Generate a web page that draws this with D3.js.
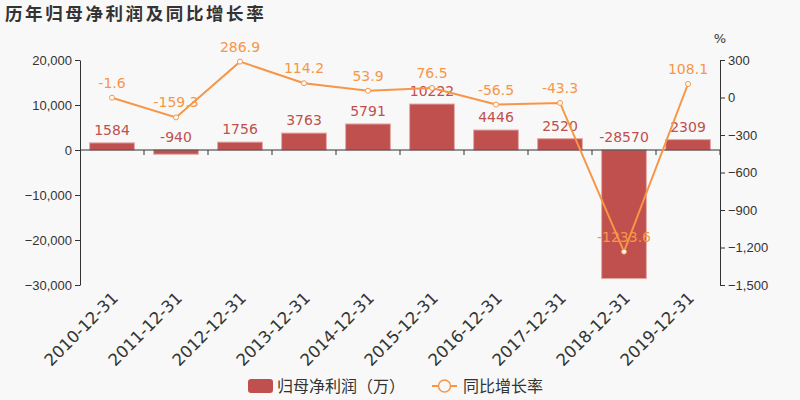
<!DOCTYPE html>
<html><head><meta charset="utf-8">
<script src="https://cdn.jsdelivr.net/npm/d3@7"></script>
<style>
body{margin:0;background:#f8f8f8;}
svg{display:block;font-family:"DejaVu Sans",sans-serif;}
</style></head><body>
<svg id="c" width="800" height="400"></svg>
<script>
const categories = ["2010-12-31","2011-12-31","2012-12-31","2013-12-31","2014-12-31","2015-12-31","2016-12-31","2017-12-31","2018-12-31","2019-12-31"];
const profit = [1584,-940,1756,3763,5791,10222,4446,2520,-28570,2309];
const growth = [-1.6,-159.3,286.9,114.2,53.9,76.5,-56.5,-43.3,-1233.6,108.1];
const leftTicks = [20000,10000,0,-10000,-20000,-30000];
const rightTicks = [300,0,-300,-600,-900,-1200,-1500];

const svg = d3.select("#c");
const W=800,H=400, L=80, R=720, T=60, B=285;
const barColor="#c0504d", lineColor="#f79646", textColor="#333";
svg.append("rect").attr("width",W).attr("height",H).attr("fill","#f8f8f8");

svg.append("text").attr("x",5).attr("y",20).attr("font-size",17.5).attr("font-weight","bold")
  .attr("fill","#333").attr("letter-spacing","2.6px").attr("font-family","'Noto Sans CJK SC',sans-serif")
  .text("历年归母净利润及同比增长率");

const x = d3.scaleBand().domain(categories).range([L,R]).paddingInner(0.3).paddingOuter(0.15);
const xb = d3.scaleBand().domain(categories).range([L,R]);
const y = d3.scaleLinear().domain([-30000,20000]).range([B,T]);
const y2 = d3.scaleLinear().domain([-1500,300]).range([B,T]);

const fmt = d3.format(",");
const gl = svg.append("g").attr("transform",`translate(${L},0)`)
  .call(d3.axisLeft(y).tickValues(leftTicks).tickFormat(fmt).tickSize(5).tickSizeOuter(0));
const gr = svg.append("g").attr("transform",`translate(${R},0)`)
  .call(d3.axisRight(y2).tickValues(rightTicks).tickFormat(fmt).tickSize(5).tickSizeOuter(0));
[gl,gr].forEach(g=>{
  g.select(".domain").attr("stroke","#333");
  g.selectAll(".tick line").attr("stroke","#333");
  g.selectAll(".tick text").attr("fill",textColor).attr("font-size",13);
});
svg.append("text").attr("x",720).attr("y",43).attr("text-anchor","middle").attr("font-size",13).attr("fill",textColor).text("%");

// bars
svg.append("g").selectAll("rect").data(profit).join("rect")
  .attr("x",(d,i)=>x(categories[i])).attr("width",x.bandwidth())
  .attr("y",d=>y(Math.max(0,d))).attr("height",d=>Math.abs(y(d)-y(0)))
  .attr("fill",barColor).attr("stroke","#e3a9a8").attr("stroke-width",1);

// x axis at zero
const gx = svg.append("g").attr("transform",`translate(0,${y(0)})`);
gx.append("line").attr("x1",L).attr("x2",R).attr("stroke","#333");
gx.selectAll("line.t").data(categories).join("line").attr("class","t")
  .attr("x1",(d,i)=>L+xb.bandwidth()*(i+1)).attr("x2",(d,i)=>L+xb.bandwidth()*(i+1)).attr("y1",0).attr("y2",5).attr("stroke","#333");
// x labels
svg.append("g").selectAll("text").data(categories).join("text")
  .attr("transform",d=>`translate(${xb(d)+xb.bandwidth()/2+3},${B+10}) rotate(-45)`)
  .attr("text-anchor","end").attr("dy","0.35em").attr("font-size",16.5).attr("fill",textColor).text(d=>d);

// bar labels
svg.append("g").selectAll("text").data(profit).join("text")
  .attr("x",(d,i)=>x(categories[i])+x.bandwidth()/2).attr("y",d=>y(Math.max(0,d))-8)
  .attr("text-anchor","middle").attr("font-size",14).attr("fill",barColor).text(d=>d);

// line
const cx=(i)=>xb(categories[i])+xb.bandwidth()/2;
svg.append("path").datum(growth).attr("fill","none").attr("stroke",lineColor).attr("stroke-width",2)
  .attr("d",d3.line().x((d,i)=>cx(i)).y(d=>y2(d)));
svg.append("g").selectAll("circle").data(growth).join("circle")
  .attr("cx",(d,i)=>cx(i)).attr("cy",d=>y2(d)).attr("r",2.5).attr("fill","#fff").attr("stroke",lineColor).attr("stroke-width",1);
svg.append("g").selectAll("text").data(growth).join("text")
  .attr("x",(d,i)=>cx(i)).attr("y",d=>y2(d)-10)
  .attr("text-anchor","middle").attr("font-size",14).attr("fill",lineColor).text(d=>d);

// legend
const lg = svg.append("g").attr("font-family","'Noto Sans CJK SC',sans-serif");
lg.append("rect").attr("x",248).attr("y",379).attr("width",25).attr("height",14).attr("rx",3).attr("fill",barColor);
lg.append("text").attr("x",277).attr("y",386).attr("dy","0.35em").attr("font-size",16).attr("fill",textColor).text("归母净利润（万）");
lg.append("line").attr("x1",432).attr("x2",457).attr("y1",386).attr("y2",386).attr("stroke",lineColor).attr("stroke-width",2);
lg.append("circle").attr("cx",444.5).attr("cy",386).attr("r",6).attr("fill","#f8f8f8").attr("stroke",lineColor).attr("stroke-width",1.5);
lg.append("text").attr("x",463).attr("y",386).attr("dy","0.35em").attr("font-size",16).attr("fill",textColor).text("同比增长率");
</script></body></html>
